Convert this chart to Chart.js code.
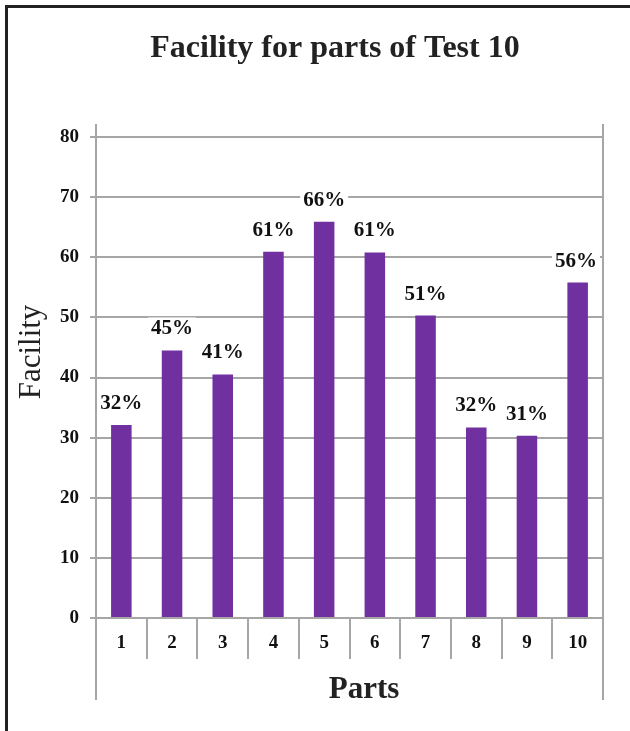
<!DOCTYPE html>
<html>
<head>
<meta charset="utf-8">
<script src="https://cdn.jsdelivr.net/npm/chart.js@4.4.1/dist/chart.umd.min.js"></script>
<style>
  html, body { margin: 0; padding: 0; background: #fff; }
  #wrap { width: 630px; height: 731px; position: relative; }
</style>
</head>
<body>
<div id="wrap"><canvas id="facilityChart" width="630" height="731"></canvas></div>
<script>
// data
const parts = ["1", "2", "3", "4", "5", "6", "7", "8", "9", "10"];
const facility = [32.1, 44.5, 40.5, 60.9, 65.9, 60.8, 50.3, 31.7, 30.3, 55.8];
const pctLabels = ["32%", "45%", "41%", "61%", "66%", "61%", "51%", "32%", "31%", "56%"];
const yTicks = [0, 10, 20, 30, 40, 50, 60, 70, 80];

const SERIF = "'Liberation Serif', 'DejaVu Serif', serif";
const GRID = "#a6a6a6";
const BAR = "#7030a0";

// outer frame, axis line extensions and the three titles
const framePlugin = {
  id: "frame",
  afterDraw(chart) {
    const { ctx, chartArea } = chart;
    ctx.save();
    // dark frame on top and left
    ctx.strokeStyle = "#222";
    ctx.lineWidth = 3;
    ctx.beginPath();
    ctx.moveTo(6.5, 731);
    ctx.lineTo(6.5, 6.5);
    ctx.lineTo(630, 6.5);
    ctx.stroke();

    // side axis lines run above the plot and down past the tick labels
    ctx.strokeStyle = GRID;
    ctx.lineWidth = 2;
    ctx.beginPath();
    [chartArea.left, chartArea.right].forEach(x => {
      ctx.moveTo(x, chartArea.top - 13);
      ctx.lineTo(x, chartArea.bottom + 82);
    });
    ctx.stroke();

    ctx.fillStyle = "#222";
    ctx.textAlign = "center";
    ctx.textBaseline = "alphabetic";
    ctx.font = "bold 32px " + SERIF;
    ctx.fillText("Facility for parts of Test 10", 335, 57);
    ctx.font = "bold 31px " + SERIF;
    ctx.fillText("Parts", 364, 698);

    ctx.save();
    ctx.translate(40, 352);
    ctx.rotate(-Math.PI / 2);
    ctx.font = "31px " + SERIF;
    ctx.fillText("Facility", 0, 0);
    ctx.restore();
    ctx.restore();
  }
};

// percentage labels over the bars, on a white box
const pctPlugin = {
  id: "pct",
  afterDatasetsDraw(chart) {
    const { ctx, chartArea } = chart;
    const meta = chart.getDatasetMeta(0);
    ctx.save();
    ctx.font = "bold 21px " + SERIF;
    ctx.textAlign = "center";
    ctx.textBaseline = "alphabetic";
    meta.data.forEach((bar, i) => {
      const txt = pctLabels[i];
      const w = ctx.measureText(txt).width;
      let x = bar.x;
      if (x + w / 2 > chartArea.right - 6) x = chartArea.right - 6 - w / 2;
      const base = bar.y - 16;
      ctx.fillStyle = "#fff";
      ctx.fillRect(x - w / 2 - 3, base - 17, w + 6, 22);
      ctx.fillStyle = "#111";
      ctx.fillText(txt, x, base);
    });
    ctx.restore();
  }
};

new Chart(document.getElementById("facilityChart"), {
  type: "bar",
  data: {
    labels: parts,
    datasets: [{
      data: facility,
      backgroundColor: BAR,
      borderWidth: 0,
      categoryPercentage: 1,
      barPercentage: 0.405
    }]
  },
  options: {
    responsive: false,
    animation: false,
    layout: { padding: { left: 0, right: 27, top: 137, bottom: 0 } },
    plugins: {
      legend: { display: false },
      title: { display: false },
      tooltip: { enabled: false }
    },
    scales: {
      x: {
        afterFit(scale) { scale.height = 731 - 618; },
        grid: {
          offset: true,
          drawOnChartArea: false,
          drawTicks: true,
          tickLength: 41,
          color: GRID,
          lineWidth: 2
        },
        border: { display: true, color: GRID, width: 2 },
        ticks: {
          padding: -27,
          color: "#111",
          font: { family: SERIF, size: 19, weight: "bold" }
        }
      },
      y: {
        min: 0,
        max: 80,
        afterFit(scale) { scale.width = 96; },
        afterBuildTicks(scale) { scale.ticks = yTicks.map(v => ({ value: v })); },
        grid: {
          color: GRID,
          lineWidth: 2,
          drawTicks: true,
          tickLength: 6
        },
        border: { display: true, color: GRID, width: 2 },
        ticks: {
          padding: 11,
          color: "#111",
          font: { family: SERIF, size: 19, weight: "bold" }
        }
      }
    }
  },
  plugins: [pctPlugin, framePlugin]
});
</script>
</body>
</html>
